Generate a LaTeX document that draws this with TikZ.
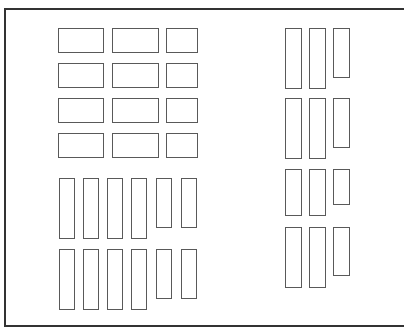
\documentclass[tikz,border=0pt]{standalone}
\usepackage{tikz}

\begin{document}
\begin{tikzpicture}[x=0.025cm, y=-0.025cm, box/.style={draw=black!65, line width=0.7pt}, frame/.style={draw=black!80, line width=1.8pt}]
  \useasboundingbox (0,0) rectangle (404,333);
  % outer frame, open on the right
  \draw[frame] (410,9) -- (5,9) -- (5,326) -- (410,326);
  % flat boxes, left
  \foreach \y in {28,63,98,133} {
    \draw[box] (58,\y) rectangle (103,\y+24);
    \draw[box] (112,\y) rectangle (158,\y+24);
    \draw[box] (166,\y) rectangle (197,\y+24);
  }
  % tall boxes, left
  \foreach \y in {178,249} {
    \foreach \x in {59,83,107,131}
      \draw[box] (\x,\y) rectangle (\x+15,\y+60);
    \foreach \x in {156,181}
      \draw[box] (\x,\y) rectangle (\x+15,\y+49);
  }
  % tall boxes, right
  \foreach \y/\h/\s in {28/60/49, 98/60/49, 169/46/35, 227/60/48} {
    \draw[box] (285,\y) rectangle (301,\y+\h);
    \draw[box] (309,\y) rectangle (325,\y+\h);
    \draw[box] (333,\y) rectangle (349,\y+\s);
  }
\end{tikzpicture}
\end{document}
